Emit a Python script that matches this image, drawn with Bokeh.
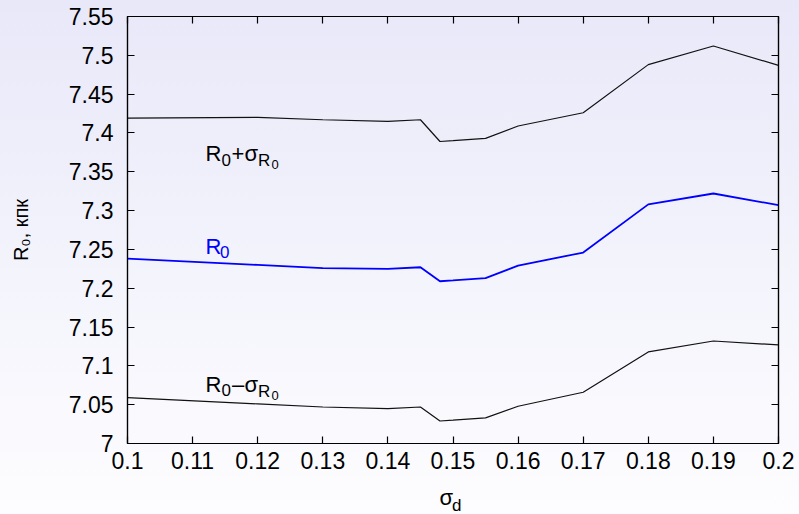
from bokeh.plotting import figure
from bokeh.layouts import column
from bokeh.models import Label, LinearAxis, FixedTicker, Range1d
from bokeh.core.properties import value
from bokeh.embed import file_html
from bokeh.resources import INLINE

# ---- data ----
sigma_d = [0.10, 0.12, 0.13, 0.14, 0.145, 0.148, 0.15, 0.155, 0.16, 0.17, 0.18, 0.19, 0.20]
r0 = [7.238, 7.230, 7.226, 7.225, 7.227, 7.209, 7.210, 7.213, 7.229, 7.246, 7.308, 7.322, 7.307]
r0_plus = [7.419, 7.420, 7.417, 7.415, 7.417, 7.389, 7.390, 7.393, 7.409, 7.426, 7.488, 7.512, 7.487]
r0_minus = [7.059, 7.051, 7.047, 7.045, 7.047, 7.029, 7.030, 7.033, 7.048, 7.066, 7.118, 7.132, 7.127]

x_ticks = [0.10, 0.11, 0.12, 0.13, 0.14, 0.15, 0.16, 0.17, 0.18, 0.19, 0.20]
x_tick_labels = ["0.1", "0.11", "0.12", "0.13", "0.14", "0.15", "0.16", "0.17", "0.18", "0.19", "0.2"]
y_ticks = [7.0, 7.05, 7.1, 7.15, 7.2, 7.25, 7.3, 7.35, 7.4, 7.45, 7.5, 7.55]
y_tick_labels = ["7", "7.05", "7.1", "7.15", "7.2", "7.25", "7.3", "7.35", "7.4", "7.45", "7.5", "7.55"]
y_title = "R\u2080, кпк"
x_title_main = "σ"
x_title_sub = "d"

FONT = "Liberation Sans"
TICK_SIZE = "23px"

p = figure(width=799, height=480, output_backend="svg", toolbar_location=None,
           x_range=Range1d(x_ticks[0], x_ticks[-1]), y_range=Range1d(y_ticks[0], y_ticks[-1]),
           min_border_left=127, min_border_right=21, min_border_top=16, min_border_bottom=37)
p.background_fill_color = None
p.border_fill_color = None
p.outline_line_color = "black"
p.outline_line_width = 1.2
p.xgrid.visible = False
p.ygrid.visible = False


def style_axis(ax, ticks, labels, show):
    ax.ticker = FixedTicker(ticks=ticks)
    ax.major_tick_in = 7
    ax.major_tick_out = 0
    ax.minor_tick_in = 0
    ax.minor_tick_out = 0
    ax.axis_line_color = "black"
    ax.axis_line_width = 1.2
    ax.major_tick_line_color = "black"
    ax.major_tick_line_width = 1.2
    if show:
        ax.major_label_overrides = {t: l for t, l in zip(ticks, labels)}
        ax.major_label_text_font = FONT
        ax.major_label_text_font_size = TICK_SIZE
        ax.major_label_text_color = "black"
    else:
        ax.major_label_overrides = {t: "" for t in ticks}
        ax.major_label_text_font_size = "0px"
        ax.major_label_standoff = 0


style_axis(p.xaxis[0], x_ticks, x_tick_labels, True)
p.xaxis[0].major_label_standoff = 8
style_axis(p.yaxis[0], y_ticks, y_tick_labels, True)
p.yaxis[0].major_label_standoff = 14
p.yaxis[0].axis_label = y_title
p.yaxis[0].axis_label_text_font = FONT
p.yaxis[0].axis_label_text_font_size = "20px"
p.yaxis[0].axis_label_text_font_style = "normal"
p.yaxis[0].axis_label_text_color = "black"
p.yaxis[0].axis_label_standoff = 34

top_ax = LinearAxis()
style_axis(top_ax, x_ticks, x_tick_labels, False)
p.add_layout(top_ax, "above")
right_ax = LinearAxis()
style_axis(right_ax, y_ticks, y_tick_labels, False)
p.add_layout(right_ax, "right")

p.line(sigma_d, r0_plus, line_color="#111111", line_width=1.2)
p.line(sigma_d, r0, line_color="#0000ff", line_width=1.8)
p.line(sigma_d, r0_minus, line_color="#111111", line_width=1.2)


def add_text(x, y, pieces, color):
    for text, dx, dy, size in pieces:
        p.add_layout(Label(x=x, y=y, x_offset=dx, y_offset=dy, text=text,
                           text_font=FONT, text_font_size=f"{size}px", text_color=color,
                           text_baseline="alphabetic", text_align="left"))


# curve labels (offsets in screen px from anchor)
add_text(0.112, 7.3735, [("R", 0, 0, 22), ("0", 16, -6, 17), ("+", 26, 0, 22),
                          ("σ", 39, 0, 22), ("R", 52.5, -7, 17), ("0", 66, -11, 13)], "black")
add_text(0.112, 7.2538, [("R", 0, 0, 22), ("0", 14.5, -6, 17)], "#0000ff")
add_text(0.112, 7.076, [("R", 0, 0, 22), ("0", 16, -6, 17), ("\u2013", 26.5, 0, 22),
                         ("σ", 39, 0, 22), ("R", 52.5, -7, 17), ("0", 66, -11, 13)], "black")

# strip below the plot that carries the x-axis title (σ with subscript d)
q = figure(width=799, height=34, output_backend="svg", toolbar_location=None,
           x_range=p.x_range, y_range=Range1d(0, 34), x_axis_type=None, y_axis_type=None,
           min_border_left=127, min_border_right=21, min_border_top=0, min_border_bottom=0)
q.background_fill_color = None
q.border_fill_color = None
q.outline_line_color = None
q.grid.visible = False
q.text(x=[x_ticks[0]], y=[17], text=[x_title_main], x_offset=312,
       text_font=value(FONT), text_font_size=value("22px"), text_color="black",
       text_baseline="alphabetic", text_align="left")
q.text(x=[x_ticks[0]], y=[9.5], text=[x_title_sub], x_offset=324.5,
       text_font=value(FONT), text_font_size=value("17px"), text_color="black",
       text_baseline="alphabetic", text_align="left")

layout = column(p, q, spacing=0)
layout.styles = {"background": "linear-gradient(to bottom, #e8e8f9 0%, #f3f3fc 50%, #fdfdff 100%)"}

open("out.html", "w").write(file_html(layout, INLINE))
